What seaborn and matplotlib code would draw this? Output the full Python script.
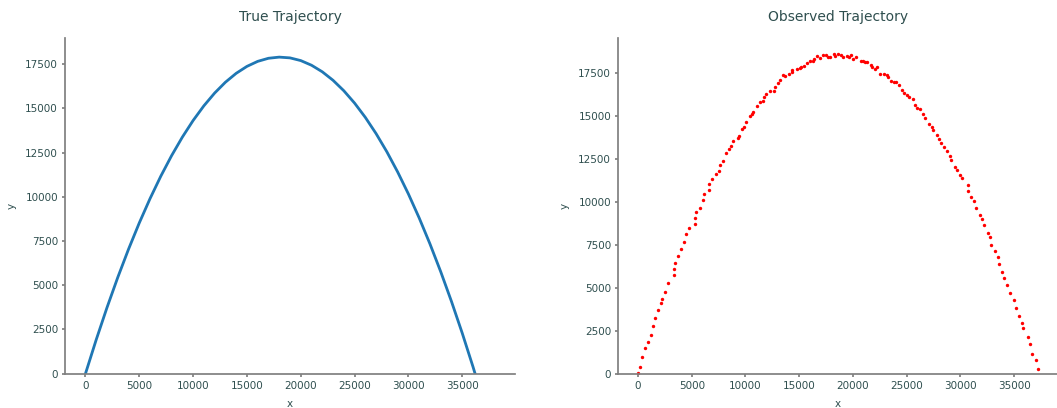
import matplotlib
matplotlib.use("Agg")
import matplotlib.pyplot as plt
import seaborn as sns

# true trajectory
true_x = [0, 1000, 2000, 3000, 4000, 5000, 6000, 7000, 8000, 9000,
          10000, 11000, 12000, 13000, 14000, 15000, 16000, 17000, 18000, 19000,
          20000, 21000, 22000, 23000, 24000, 25000, 26000, 27000, 28000, 29000,
          30000, 31000, 32000, 33000, 34000, 35000, 36000, 37000, 38000]
true_y = [0, 1923, 3737, 5442, 7037, 8524, 9900, 11168, 12326, 13375,
          14315, 15146, 15867, 16479, 16982, 17375, 17659, 17834, 17899, 17856,
          17703, 17440, 17069, 16588, 15998, 15299, 14490, 13572, 12545, 11408,
          10163, 8808, 7343, 5770, 4087, 2295, 393, -1617, -3737]

obs_x = [0, 200, 355, 605, 885, 1165, 1350, 1560, 1850, 2100,
         2250, 2530, 2780, 3310, 3340, 3460, 3710, 3990, 4300, 4490,
         4700, 5290, 5260, 5420, 5790, 6040, 6170, 6570, 6600, 6850,
         7220, 7500, 7660, 7900, 8220, 8430, 8650, 8810, 9270, 9430,
         9650, 9900, 10050, 10420, 10580, 10740, 11110, 11330, 11640, 11740,
         11870, 12300, 12610, 12710, 13020, 13230, 13480, 13700, 14040, 14320,
         14350, 14750, 15070, 15160, 15410, 15690, 16000, 16310, 16410, 16660,
         16970, 17190, 17470, 17710, 17890, 18270, 18300, 18620, 18930, 19090,
         19400, 19610, 19860, 20040, 20260, 20730, 20940, 21130, 21310, 21660,
         21810, 22060, 22210, 22520, 22870, 23170, 23260, 23550, 23860, 24010,
         24290, 24540, 24700, 24980, 25190, 25600, 25790, 25970, 26200, 26500,
         26690, 27090, 27310, 27410, 27840, 28030, 28210, 28490, 28770, 29060,
         29090, 29520, 29680, 29990, 30150, 30710, 30710, 30990, 31290, 31450,
         31850, 32040, 32190, 32540, 32720, 32880, 33250, 33530, 33620, 33870,
         34050, 34330, 34650, 34960, 35210, 35460, 35680, 35830, 36300, 36490,
         36610, 36980, 37170]
obs_y = [20, 380, 1000, 1500, 1870, 2260, 2770, 3260, 3700, 4090,
         4350, 4740, 5260, 5750, 6100, 6470, 6880, 7250, 7640, 8110,
         8460, 8710, 9050, 9440, 9630, 10140, 10450, 10680, 11030, 11330,
         11620, 11800, 12150, 12360, 12850, 13080, 13240, 13570, 13740, 13860,
         14230, 14370, 14640, 14990, 15150, 15260, 15580, 15830, 15890, 16120,
         16300, 16460, 16470, 16690, 16920, 17080, 17370, 17330, 17470, 17580,
         17660, 17760, 17820, 17880, 17920, 18070, 18230, 18210, 18300, 18520,
         18360, 18560, 18540, 18420, 18440, 18620, 18500, 18620, 18540, 18460,
         18520, 18440, 18540, 18340, 18460, 18230, 18190, 18130, 18150, 17990,
         17880, 17740, 17880, 17470, 17470, 17390, 17250, 17040, 16960, 16960,
         16810, 16530, 16370, 16220, 16120, 15990, 15670, 15480, 15420, 15130,
         14880, 14560, 14370, 14210, 13920, 13650, 13450, 13180, 12950, 12690,
         12460, 12050, 11870, 11580, 11370, 10980, 10640, 10290, 10080, 9670,
         9240, 9030, 8640, 8210, 7980, 7510, 7130, 6770, 6360, 5950,
         5560, 5190, 4700, 4270, 3800, 3360, 2950, 2650, 2150, 1700,
         1170, 780, 260]

sns.set_theme(style="ticks")
text_color = "#2f4f4f"
plt.rcParams.update({
    "font.family": ["DejaVu Sans"],
    "text.color": text_color,
    "axes.labelcolor": text_color,
    "xtick.color": "gray",
    "ytick.color": "gray",
    "xtick.labelcolor": text_color,
    "ytick.labelcolor": text_color,
    "axes.edgecolor": "gray",
    "xtick.labelsize": 7.5,
    "ytick.labelsize": 7.5,
    "xtick.major.size": 2.5,
    "ytick.major.size": 2.5,
    "xtick.major.pad": 2.5,
    "ytick.major.pad": 2.5,
    "axes.labelsize": 7.5,
    "axes.titlesize": 10,
})

fig = plt.figure(figsize=(10.57, 4.08), dpi=100)
ax1 = fig.add_axes([0.0615, 0.0841, 0.4257, 0.8228])
ax2 = fig.add_axes([0.5847, 0.0841, 0.4158, 0.8228])

# left: true path
sns.lineplot(x=true_x, y=true_y, ax=ax1, color="#1f77b4", linewidth=2,
             solid_joinstyle="round", solid_capstyle="round")
ax1.set_ylim(bottom=0)
ax1.set_title("True Trajectory", color=text_color, pad=12)
ax1.set_xlabel("x", labelpad=6)
ax1.set_ylabel("y", labelpad=6)

# right: observed points
sns.scatterplot(x=obs_x, y=obs_y, ax=ax2, color="red", s=6, linewidth=0)
ax2.set_ylim(bottom=0)
ax2.set_title("Observed Trajectory", color=text_color, pad=12)
ax2.set_xlabel("x", labelpad=6)
ax2.set_ylabel("y", labelpad=6)

sns.despine()

fig.savefig("out.png", dpi=100)
